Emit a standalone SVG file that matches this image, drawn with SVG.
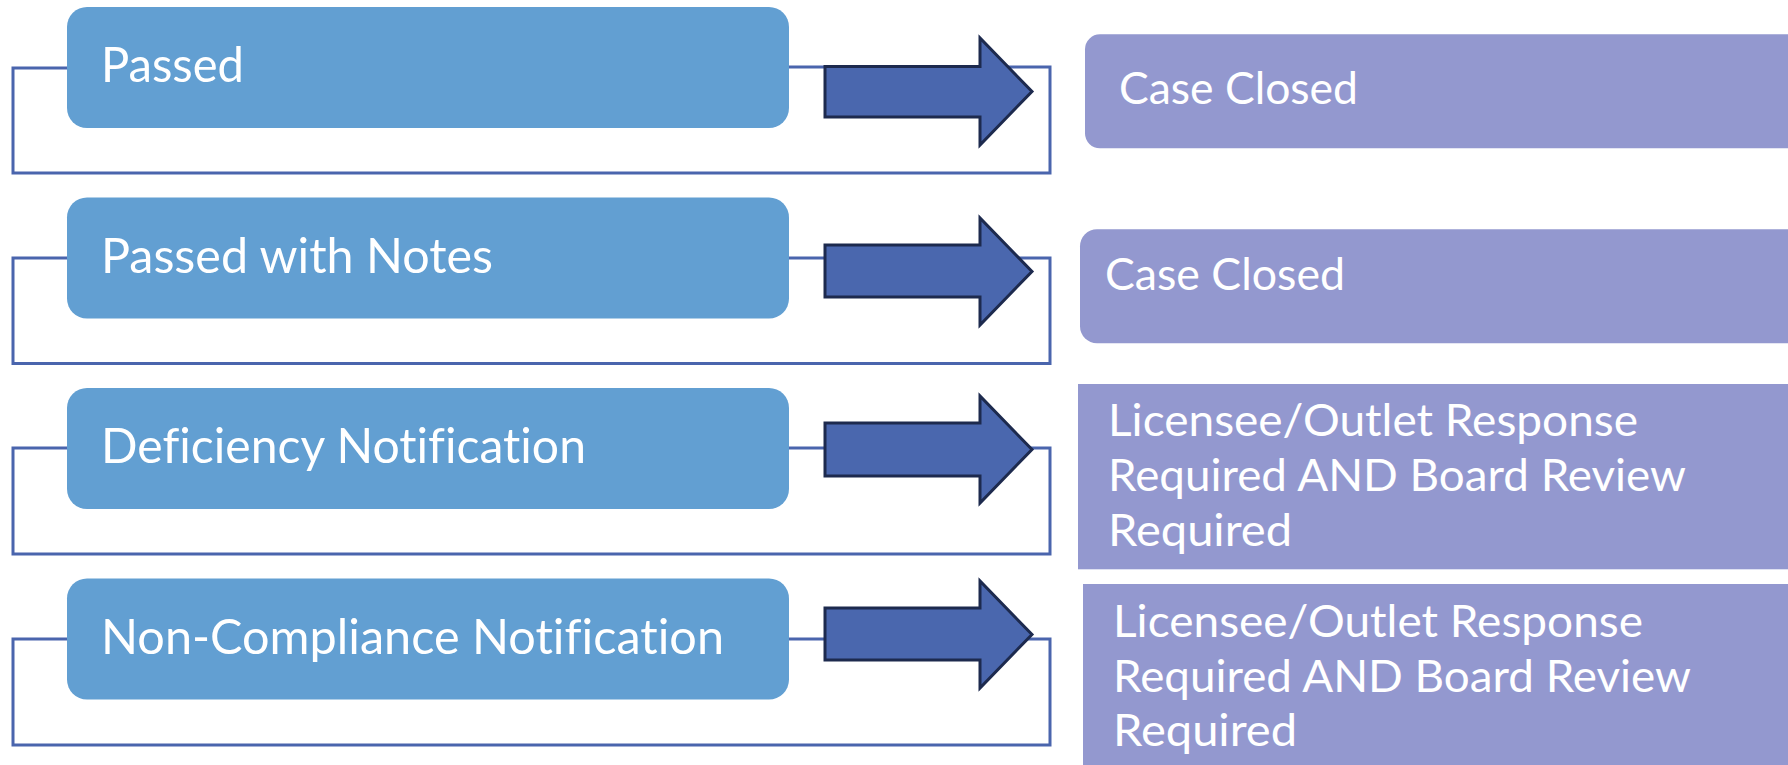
<svg xmlns="http://www.w3.org/2000/svg" width="1788" height="765" viewBox="0 0 1788 765">
<style>
.lbox{fill:#629fd2}
.rbox{fill:#9398cf}
.arr{fill:#4a67ae;stroke:#1d2a4e;stroke-width:3;stroke-linejoin:miter}
.conn{fill:none;stroke:#4a65ad;stroke-width:3}
.lt,.rt{font-family:Lato,"Open Sans",sans-serif;fill:#ffffff;font-variant-ligatures:none;font-feature-settings:"liga" 0,"clig" 0,"dlig" 0}
.lt{font-size:49px}
.rt{font-size:45px}
</style>
<rect width="1788" height="765" fill="#ffffff"/>
<g id="connectors">
<polyline class="conn" points="67,68 13,68 13,173 1050,173 1050,67 789,67"/>
<polyline class="conn" points="67,258 13,258 13,363.5 1050,363.5 1050,258 789,258"/>
<polyline class="conn" points="67,448 13,448 13,554 1050,554 1050,448 789,448"/>
<polyline class="conn" points="67,639 13,639 13,745 1050,745 1050,639 789,639"/>
</g>
<g id="arrows">
<polygon class="arr" points="825,66.5 980,66.5 980,38 1032,91.5 980,145 980,117 825,117"/>
<polygon class="arr" points="825,245 980,245 980,218 1032,271.5 980,325 980,297 825,297"/>
<polygon class="arr" points="825,423 980,423 980,396 1032,449.5 980,503 980,476 825,476"/>
<polygon class="arr" points="825,608 980,608 980,581 1032,634.5 980,688 980,660 825,660"/>
</g>
<g id="n1"><rect class="lbox" x="67" y="7" width="722" height="121" rx="20"/><text class="lt" x="101" y="82" textLength="143" lengthAdjust="spacingAndGlyphs">Passed</text></g>
<g id="n2"><rect class="lbox" x="67" y="197.5" width="722" height="121" rx="20"/><text class="lt" x="101" y="272.5" textLength="392" lengthAdjust="spacingAndGlyphs">Passed with Notes</text></g>
<g id="n3"><rect class="lbox" x="67" y="388" width="722" height="121" rx="20"/><text class="lt" x="101" y="463" textLength="485" lengthAdjust="spacingAndGlyphs">Deficiency Notification</text></g>
<g id="n4"><rect class="lbox" x="67" y="578.5" width="722" height="121" rx="20"/><text class="lt" x="101" y="654" textLength="623" lengthAdjust="spacingAndGlyphs">Non-Compliance Notification</text></g>
<g id="r1"><rect class="rbox" x="1085" y="34.3" width="760" height="114" rx="15"/><text class="rt" x="1119" y="104" textLength="239" lengthAdjust="spacingAndGlyphs">Case Closed</text></g>
<g id="r2"><rect class="rbox" x="1080" y="229.3" width="760" height="114" rx="17"/><text class="rt" x="1105" y="290" textLength="240" lengthAdjust="spacingAndGlyphs">Case Closed</text></g>
<g id="r3"><rect class="rbox" x="1078" y="384" width="720" height="185.3"/>
<text class="rt" x="1108" y="435.5" textLength="530" lengthAdjust="spacingAndGlyphs">Licensee/Outlet Response</text>
<text class="rt" x="1108" y="491" textLength="578" lengthAdjust="spacingAndGlyphs">Required AND Board Review</text>
<text class="rt" x="1108" y="546" textLength="184" lengthAdjust="spacingAndGlyphs">Required</text></g>
<g id="r4"><rect class="rbox" x="1083" y="584" width="720" height="190"/>
<text class="rt" x="1113" y="637" textLength="530" lengthAdjust="spacingAndGlyphs">Licensee/Outlet Response</text>
<text class="rt" x="1113" y="692" textLength="578" lengthAdjust="spacingAndGlyphs">Required AND Board Review</text>
<text class="rt" x="1113" y="746" textLength="184" lengthAdjust="spacingAndGlyphs">Required</text></g>
</svg>
